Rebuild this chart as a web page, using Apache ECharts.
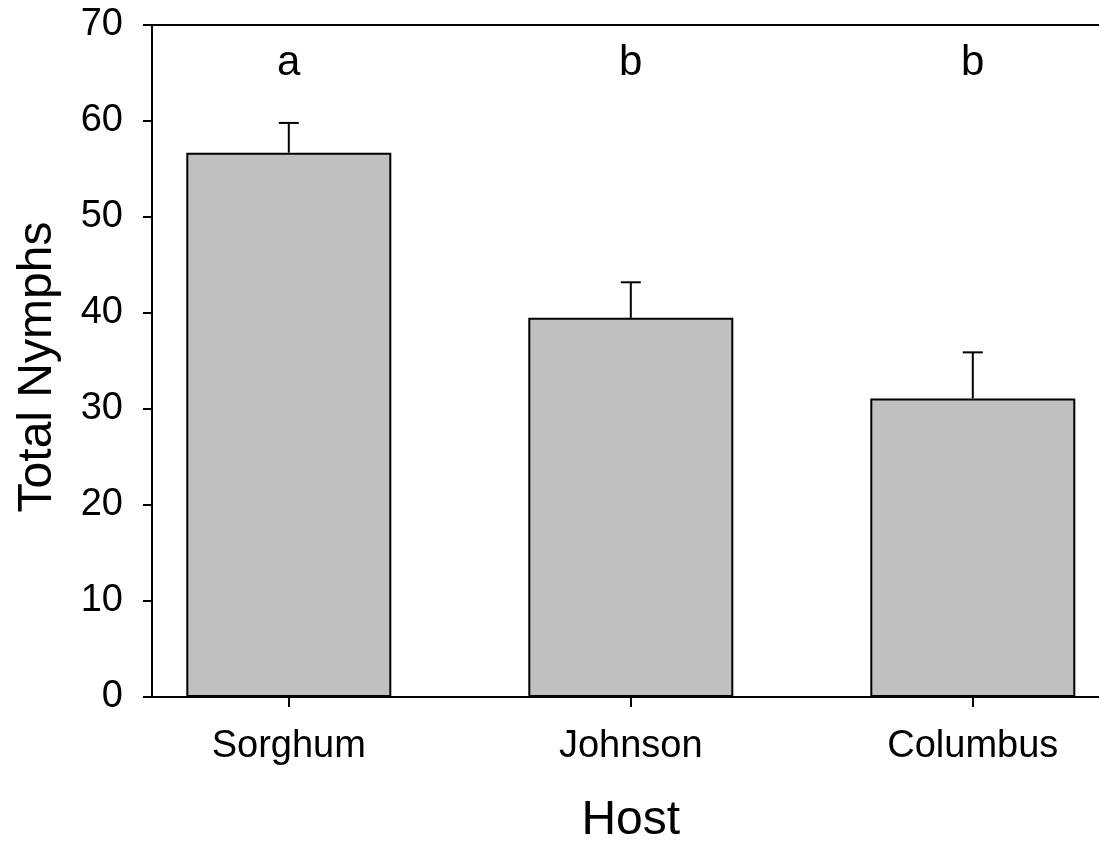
<!DOCTYPE html>
<html>
<head>
<meta charset="utf-8">
<script src="https://cdn.jsdelivr.net/npm/echarts@6/dist/echarts.min.js"></script>
<style>html,body{margin:0;padding:0;background:#fff}#c{width:1099px;height:844px}</style>
</head>
<body>
<div id="c"></div>
<script>
const categories = ['Sorghum', 'Johnson', 'Columbus'];
const means = [56.7, 39.5, 31.1];
const errors = [3.1, 3.7, 4.8];
const letters = ['a', 'b', 'b'];
const letterLevel = 66;
const yTicks = [0, 10, 20, 30, 40, 50, 60, 70];

const FONT = '"Liberation Sans", Arial, sans-serif';
const positions = categories.map((c, i) => i + 1);

const chart = echarts.init(document.getElementById('c'));
chart.setOption({
  animation: false,
  backgroundColor: '#fff',
  grid: { left: 152, top: 25, height: 672, width: 957.6, outerBoundsMode: 'none', containLabel: false },
  xAxis: [{
    type: 'value', min: 0.6, max: 3.4,
    name: 'Host', nameLocation: 'middle', nameGap: 100,
    nameTextStyle: { fontSize: 48, color: '#000', fontFamily: FONT },
    axisLine: { show: true, onZero: false, lineStyle: { color: '#000', width: 2 } },
    axisTick: { show: true, length: 10, customValues: positions, lineStyle: { color: '#000', width: 2 } },
    axisLabel: { customValues: positions, margin: 31, fontSize: 38, color: '#000', fontFamily: FONT,
      formatter: v => categories[Math.round(v) - 1] || '' },
    splitLine: { show: false }
  }, {
    type: 'value', min: 0.6, max: 3.4, position: 'top',
    axisLine: { show: true, onZero: false, lineStyle: { color: '#000', width: 2 } },
    axisTick: { show: false }, axisLabel: { show: false }, splitLine: { show: false }
  }],
  yAxis: {
    type: 'value', min: yTicks[0], max: yTicks[yTicks.length - 1], interval: 10,
    name: 'Total Nymphs', nameLocation: 'middle', nameGap: 90,
    nameTextStyle: { fontSize: 48, color: '#000', fontFamily: FONT, padding: [0, 12, 0, 0] },
    axisLine: { show: true, lineStyle: { color: '#000', width: 2 } },
    axisTick: { show: true, length: 9, lineStyle: { color: '#000', width: 2 } },
    axisLabel: { margin: 29, fontSize: 38, color: '#000', fontFamily: FONT, padding: [4, 0, 0, 0] },
    splitLine: { show: false }
  },
  series: [{
    type: 'bar',
    data: positions.map((p, i) => [p, means[i]]),
    barWidth: 205,
    itemStyle: { color: '#c0c0c0', borderColor: '#000', borderWidth: 2 },
    z: 2
  }, {
    type: 'custom',
    data: positions.map((p, i) => [p, means[i], means[i] + errors[i]]),
    renderItem: (params, api) => {
      const base = api.coord([api.value(0), api.value(1)]);
      const top = api.coord([api.value(0), api.value(2)]);
      const style = { stroke: '#000', lineWidth: 2 };
      return { type: 'group', children: [
        { type: 'line', shape: { x1: base[0], y1: base[1], x2: top[0], y2: top[1] }, style },
        { type: 'line', shape: { x1: top[0] - 10, y1: top[1], x2: top[0] + 10, y2: top[1] }, style }
      ]};
    },
    z: 3
  }, {
    type: 'custom',
    data: positions.map((p, i) => [p, letterLevel, i]),
    renderItem: (params, api) => {
      const pt = api.coord([api.value(0), api.value(1)]);
      return { type: 'text', x: pt[0], y: pt[1], style: {
        text: letters[api.value(2)], fill: '#000', fontSize: 42, fontFamily: FONT,
        align: 'center', verticalAlign: 'middle' } };
    },
    z: 4
  }]
});
</script>
</body>
</html>
